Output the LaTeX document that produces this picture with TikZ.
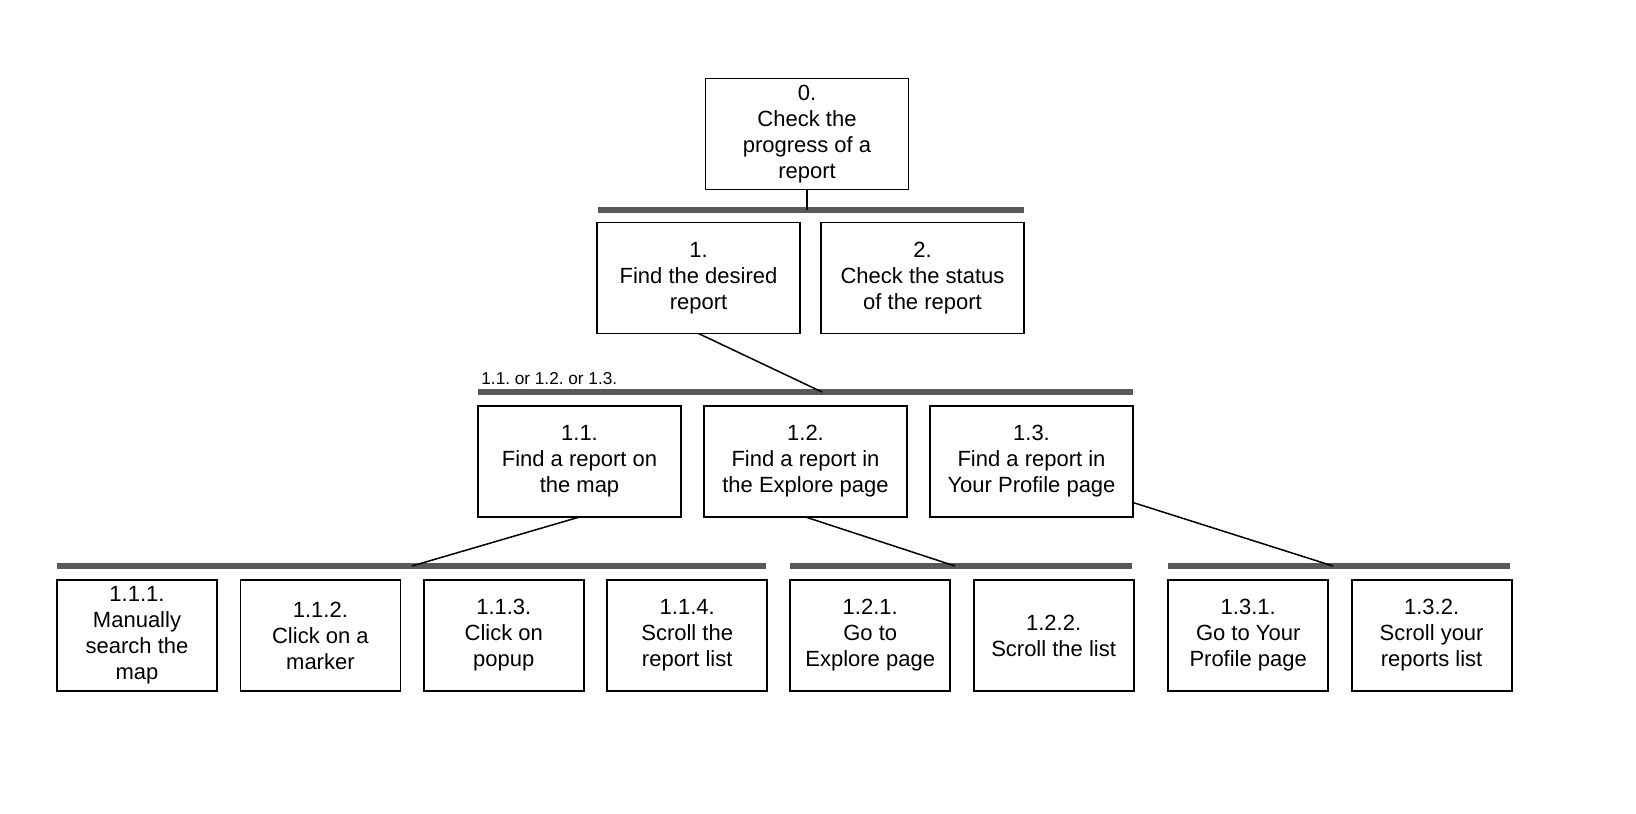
\documentclass[tikz,border=0pt]{standalone}
\usepackage{fontspec}
\setmainfont{Liberation Sans}
\usetikzlibrary{positioning}
\frenchspacing

\begin{document}
\begin{tikzpicture}[
x=0.5pt, y=-0.5pt,
task/.style={rectangle, draw=black, line width=0.9pt, minimum width=101.5pt, minimum height=55.5pt, inner sep=0pt, outer sep=0pt, align=center, font=\fontsize{11}{13}\selectfont},
leaf/.style={task, minimum width=80pt},
bar/.style={line width=2.6pt, draw=black!65},
link/.style={line width=0.75pt, draw=black}
]
\useasboundingbox (0,0) rectangle (1636,813);

\node[task](task_0) at (807,134){0.\\Check the\\progress of a\\report};

\node[task](task_1) at (698.5,278){1.\\Find the desired\\report};
\node[task](task_2)[right=10.5pt of task_1]{2.\\Check the status\\of the report};

\node[task](task_1_1) at (579.5,461.5){1.1.\\Find a report on\\the map};
\node[task](task_1_2)[right=11.5pt of task_1_1]{1.2.\\Find a report in\\the Explore page};
\node[task](task_1_3)[right=11.5pt of task_1_2]{1.3.\\Find a report in\\Your Profile page};

\node[leaf](task_1_1_1) at (137,635.5){1.1.1.\\Manually\\search the\\map};
\node[leaf](task_1_1_2)[right=11.7pt of task_1_1_1]{1.1.2.\\Click on a\\marker};
\node[leaf](task_1_1_3)[right=11.7pt of task_1_1_2]{1.1.3.\\Click on\\popup};
\node[leaf](task_1_1_4)[right=11.7pt of task_1_1_3]{1.1.4.\\Scroll the\\report list};
\node[leaf](task_1_2_1)[right=11.5pt of task_1_1_4]{1.2.1.\\Go to\\Explore page};
\node[leaf](task_1_2_2)[right=11.7pt of task_1_2_1]{1.2.2.\\Scroll the list};
\node[leaf](task_1_3_1)[right=17.3pt of task_1_2_2]{1.3.1.\\Go to Your\\Profile page};
\node[leaf](task_1_3_2)[right=11.7pt of task_1_3_1]{1.3.2.\\Scroll your\\reports list};

\node[anchor=south west, inner sep=0pt, font=\fontsize{8.6}{10}\selectfont](plan_1) at (481,385){1.1. or 1.2. or 1.3.};

% plan bars
\coordinate (bar_0_l) at (598,210);
\coordinate (bar_0_r) at (1024,210);
\coordinate (bar_1_l) at (478,392);
\coordinate (bar_1_r) at (1133,392);
\coordinate (bar_1_1_l) at (57,566);
\coordinate (bar_1_1_r) at (766,566);
\coordinate (bar_1_2_l) at (790,566);
\coordinate (bar_1_2_r) at (1132,566);
\coordinate (bar_1_3_l) at (1168,566);
\coordinate (bar_1_3_r) at (1510,566);

\draw[bar] (bar_0_l) -- (bar_0_r);
\draw[bar] (bar_1_l) -- (bar_1_r);
\draw[bar] (bar_1_1_l) -- (bar_1_1_r);
\draw[bar] (bar_1_2_l) -- (bar_1_2_r);
\draw[bar] (bar_1_3_l) -- (bar_1_3_r);

\coordinate (join_0) at (807,210);
\coordinate (join_1) at (822,392);
\coordinate (join_1_1) at (412,566);
\coordinate (join_1_2) at (955,566);
\coordinate (join_1_3) at (1333,566);

\draw[link] (task_0.south) -- (join_0);
\draw[link] (task_1.south) -- (join_1);
\draw[link] (task_1_1.south) -- (join_1_1);
\draw[link] (task_1_2.south) -- (join_1_2);
\draw[link] (task_1_3.-22) -- (join_1_3);
\end{tikzpicture}
\end{document}
